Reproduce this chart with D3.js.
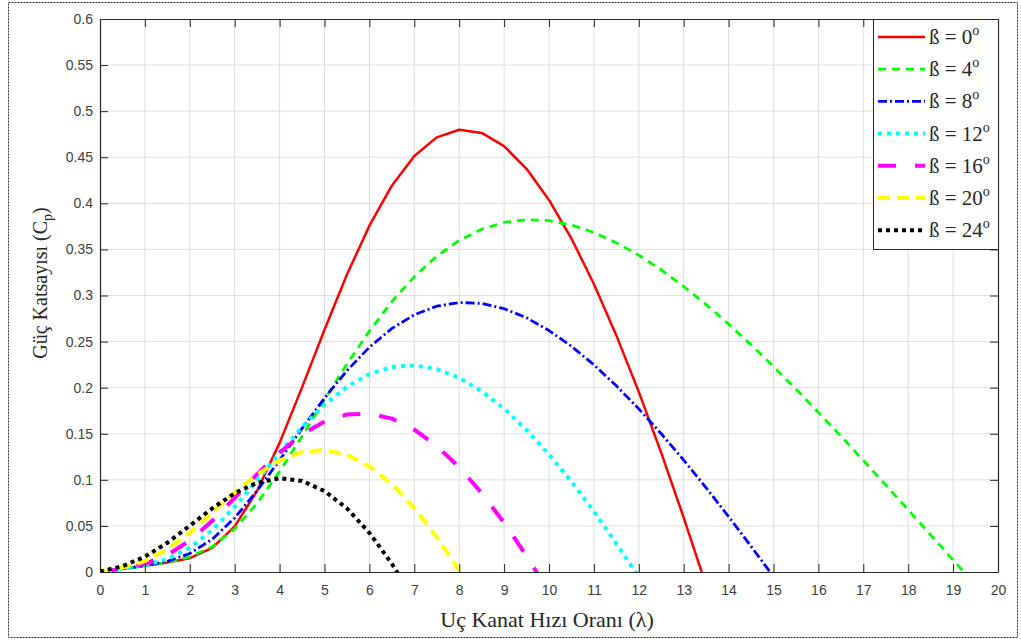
<!DOCTYPE html>
<html>
<head>
<meta charset="utf-8">
<script src="https://cdn.jsdelivr.net/npm/d3@7"></script>
<style>
  body { margin: 0; background: #fff; }
  svg { display: block; }
  .tick text { font-family: "Liberation Sans", Arial, sans-serif; font-size: 14px; fill: #404040; }
</style>
</head>
<body>
<svg id="chart" width="1021" height="642"></svg>
<script>
// tip speed ratio, step 0.5
var lam = [0, 0.5, 1, 1.5, 2, 2.5, 3, 3.5, 4, 4.5, 5, 5.5, 6, 6.5, 7, 7.5, 8, 8.5, 9, 9.5,
           10, 10.5, 11, 11.5, 12, 12.5, 13, 13.5, 14, 14.5, 15, 15.5, 16, 16.5, 17, 17.5, 18, 18.5, 19, 19.5];

// power coefficient per pitch angle
var cp0  = [0, 0.0034, 0.0068, 0.0103, 0.0150, 0.0261, 0.0495, 0.0882, 0.1401, 0.2003, 0.2629, 0.3227, 0.3757, 0.4191,
            0.4513, 0.4716, 0.4798, 0.4764, 0.4620, 0.4375, 0.4037, 0.3618, 0.3125, 0.2567, 0.1954, 0.1293, 0.0590, -0.0147];
var cp4  = [0, 0.0034, 0.0068, 0.0105, 0.0163, 0.0275, 0.0469, 0.0746, 0.1090, 0.1474, 0.1870, 0.2256, 0.2615, 0.2933,
            0.3205, 0.3427, 0.3598, 0.3719, 0.3793, 0.3823, 0.3812, 0.3765, 0.3684, 0.3573, 0.3437, 0.3277, 0.3098, 0.2901,
            0.2689, 0.2464, 0.2229, 0.1984, 0.1732, 0.1474, 0.1211, 0.0944, 0.0674, 0.0403, 0.0130, -0.0143];
var cp8  = [0, 0.0034, 0.0069, 0.0115, 0.0201, 0.0356, 0.0587, 0.0882, 0.1214, 0.1557, 0.1887, 0.2185, 0.2439, 0.2642,
            0.2790, 0.2884, 0.2924, 0.2914, 0.2857, 0.2758, 0.2620, 0.2449, 0.2248, 0.2020, 0.1770, 0.1500, 0.1214, 0.0913,
            0.0601, 0.0279, -0.0051];
var cp12 = [0, 0.0034, 0.0074, 0.0140, 0.0262, 0.0454, 0.0706, 0.0995, 0.1292, 0.1572, 0.1816, 0.2010, 0.2147, 0.2225,
            0.2242, 0.2201, 0.2106, 0.1962, 0.1772, 0.1541, 0.1276, 0.0979, 0.0656, 0.0309, -0.0057];
var cp16 = [0, 0.0036, 0.0088, 0.0184, 0.0342, 0.0556, 0.0805, 0.1061, 0.1297, 0.1492, 0.1632, 0.1709, 0.1719, 0.1664,
            0.1545, 0.1367, 0.1136, 0.0856, 0.0534, 0.0173, -0.0219];
var cp20 = [0.0001, 0.0044, 0.0119, 0.0246, 0.0427, 0.0642, 0.0862, 0.1059, 0.1211, 0.1302, 0.1323, 0.1271, 0.1147,
            0.0953, 0.0696, 0.0380, 0.0011, -0.0403];
var cp24 = [0.0004, 0.0063, 0.0166, 0.0317, 0.0502, 0.0691, 0.0855, 0.0969, 0.1017, 0.0988, 0.0878, 0.0690, 0.0425,
            0.0090, -0.0308];

var betas  = [0, 4, 8, 12, 16, 20, 24];
var values = [cp0, cp4, cp8, cp12, cp16, cp20, cp24];
var colors = ['#ff0000', '#00ff00', '#0000ff', '#00ffff', '#ff00ff', '#ffff00', '#000000'];
var dashes = [null, '8,6', '9,3,2,3', '4,5', '18,19', '12,7', '4,4'];
var widths = [2.5, 2.8, 2.8, 4, 4, 4, 4];

var xTicks = d3.range(0, 21, 1);
var yTicks = [0, 0.05, 0.1, 0.15, 0.2, 0.25, 0.3, 0.35, 0.4, 0.45, 0.5, 0.55, 0.6];

var svg = d3.select('#chart');
var m = { left: 100, top: 19, right: 998, bottom: 572 };

// outer dotted frame
svg.append('rect')
  .attr('x', 8.5).attr('y', 2.5).attr('width', 1009).attr('height', 635)
  .attr('fill', 'none').attr('stroke', '#333').attr('stroke-width', 1)
  .attr('stroke-dasharray', '2,1');

var x = d3.scaleLinear().domain([0, 20]).range([m.left, m.right]);
var y = d3.scaleLinear().domain([0, 0.6]).range([m.bottom, m.top]);

// grid
var g = svg.append('g');
g.selectAll('line.vx').data(xTicks.slice(1, -1)).enter().append('line')
  .attr('x1', function(d) { return x(d); }).attr('x2', function(d) { return x(d); })
  .attr('y1', m.top).attr('y2', m.bottom)
  .attr('stroke', '#dedede').attr('stroke-width', 1);
g.selectAll('line.hy').data(yTicks.slice(1, -1)).enter().append('line')
  .attr('y1', function(d) { return y(d); }).attr('y2', function(d) { return y(d); })
  .attr('x1', m.left).attr('x2', m.right)
  .attr('stroke', '#dedede').attr('stroke-width', 1);

// curves, clipped to axes
svg.append('clipPath').attr('id', 'clip').append('rect')
  .attr('x', m.left).attr('y', m.top).attr('width', m.right - m.left).attr('height', m.bottom - m.top);

var line = d3.line()
  .x(function(d, i) { return x(lam[i]); })
  .y(function(d) { return y(d); });

var curves = svg.append('g').attr('clip-path', 'url(#clip)');
values.forEach(function(v, k) {
  curves.append('path')
    .attr('d', line(v))
    .attr('fill', 'none')
    .attr('stroke', colors[k])
    .attr('stroke-width', widths[k])
    .attr('stroke-dasharray', dashes[k])
    .attr('stroke-linejoin', 'round');
});

// axes (ticks inward, box on)
var tl = 8;
var ax = svg.append('g').attr('transform', 'translate(0,' + m.bottom + ')')
  .call(d3.axisBottom(x).tickValues(xTicks).tickSizeInner(-tl).tickSizeOuter(0).tickPadding(13).tickFormat(d3.format('d')));
var ay = svg.append('g').attr('transform', 'translate(' + m.left + ',0)')
  .call(d3.axisLeft(y).tickValues(yTicks).tickSizeInner(-tl).tickSizeOuter(0).tickPadding(7).tickFormat(function(d) { return d3.format('')(+d.toFixed(2)); }));
var axT = svg.append('g').attr('transform', 'translate(0,' + m.top + ')')
  .call(d3.axisTop(x).tickValues(xTicks).tickSizeInner(-tl).tickSizeOuter(0).tickFormat(''));
var ayR = svg.append('g').attr('transform', 'translate(' + m.right + ',0)')
  .call(d3.axisRight(y).tickValues(yTicks).tickSizeInner(-tl).tickSizeOuter(0).tickFormat(''));
[ax, ay, axT, ayR].forEach(function(a) {
  a.selectAll('.domain').attr('stroke', '#262626').attr('stroke-width', 1.2);
  a.selectAll('.tick line').attr('stroke', '#262626');
});

// axis labels
svg.append('text')
  .attr('x', (m.left + m.right) / 2 - 2).attr('y', 627)
  .attr('text-anchor', 'middle')
  .style('font-family', '"Liberation Serif", "Times New Roman", serif').style('font-size', '22px').style('fill', '#262626')
  .text('Uç Kanat Hızı Oranı (λ)');

var yl = svg.append('text')
  .attr('transform', 'translate(47,283) rotate(-90)')
  .attr('text-anchor', 'middle')
  .style('font-family', '"Liberation Serif", "Times New Roman", serif').style('font-size', '20px').style('fill', '#262626');
yl.append('tspan').text('Güç Katsayısı (C');
yl.append('tspan').attr('dy', 5).style('font-size', '14px').text('p');
yl.append('tspan').attr('dy', -5).text(')');

// legend
var lg = svg.append('g');
lg.append('rect')
  .attr('x', 873.5).attr('y', 19.5).attr('width', 125).attr('height', 230)
  .attr('fill', '#fff').attr('stroke', '#262626').attr('stroke-width', 1);
betas.forEach(function(b, k) {
  var cy = 37 + k * 32.2;
  lg.append('line')
    .attr('x1', 878).attr('x2', 925).attr('y1', cy).attr('y2', cy)
    .attr('stroke', colors[k]).attr('stroke-width', widths[k])
    .attr('stroke-dasharray', dashes[k]);
  var t = lg.append('text')
    .attr('x', 929).attr('y', cy + 7)
    .style('font-family', '"Liberation Serif", "Times New Roman", serif').style('font-size', '21px').style('fill', '#262626');
  t.append('tspan').text('ß = ' + b);
  t.append('tspan').attr('dy', -9).style('font-size', '14px').text('o');
});
</script>
</body>
</html>
